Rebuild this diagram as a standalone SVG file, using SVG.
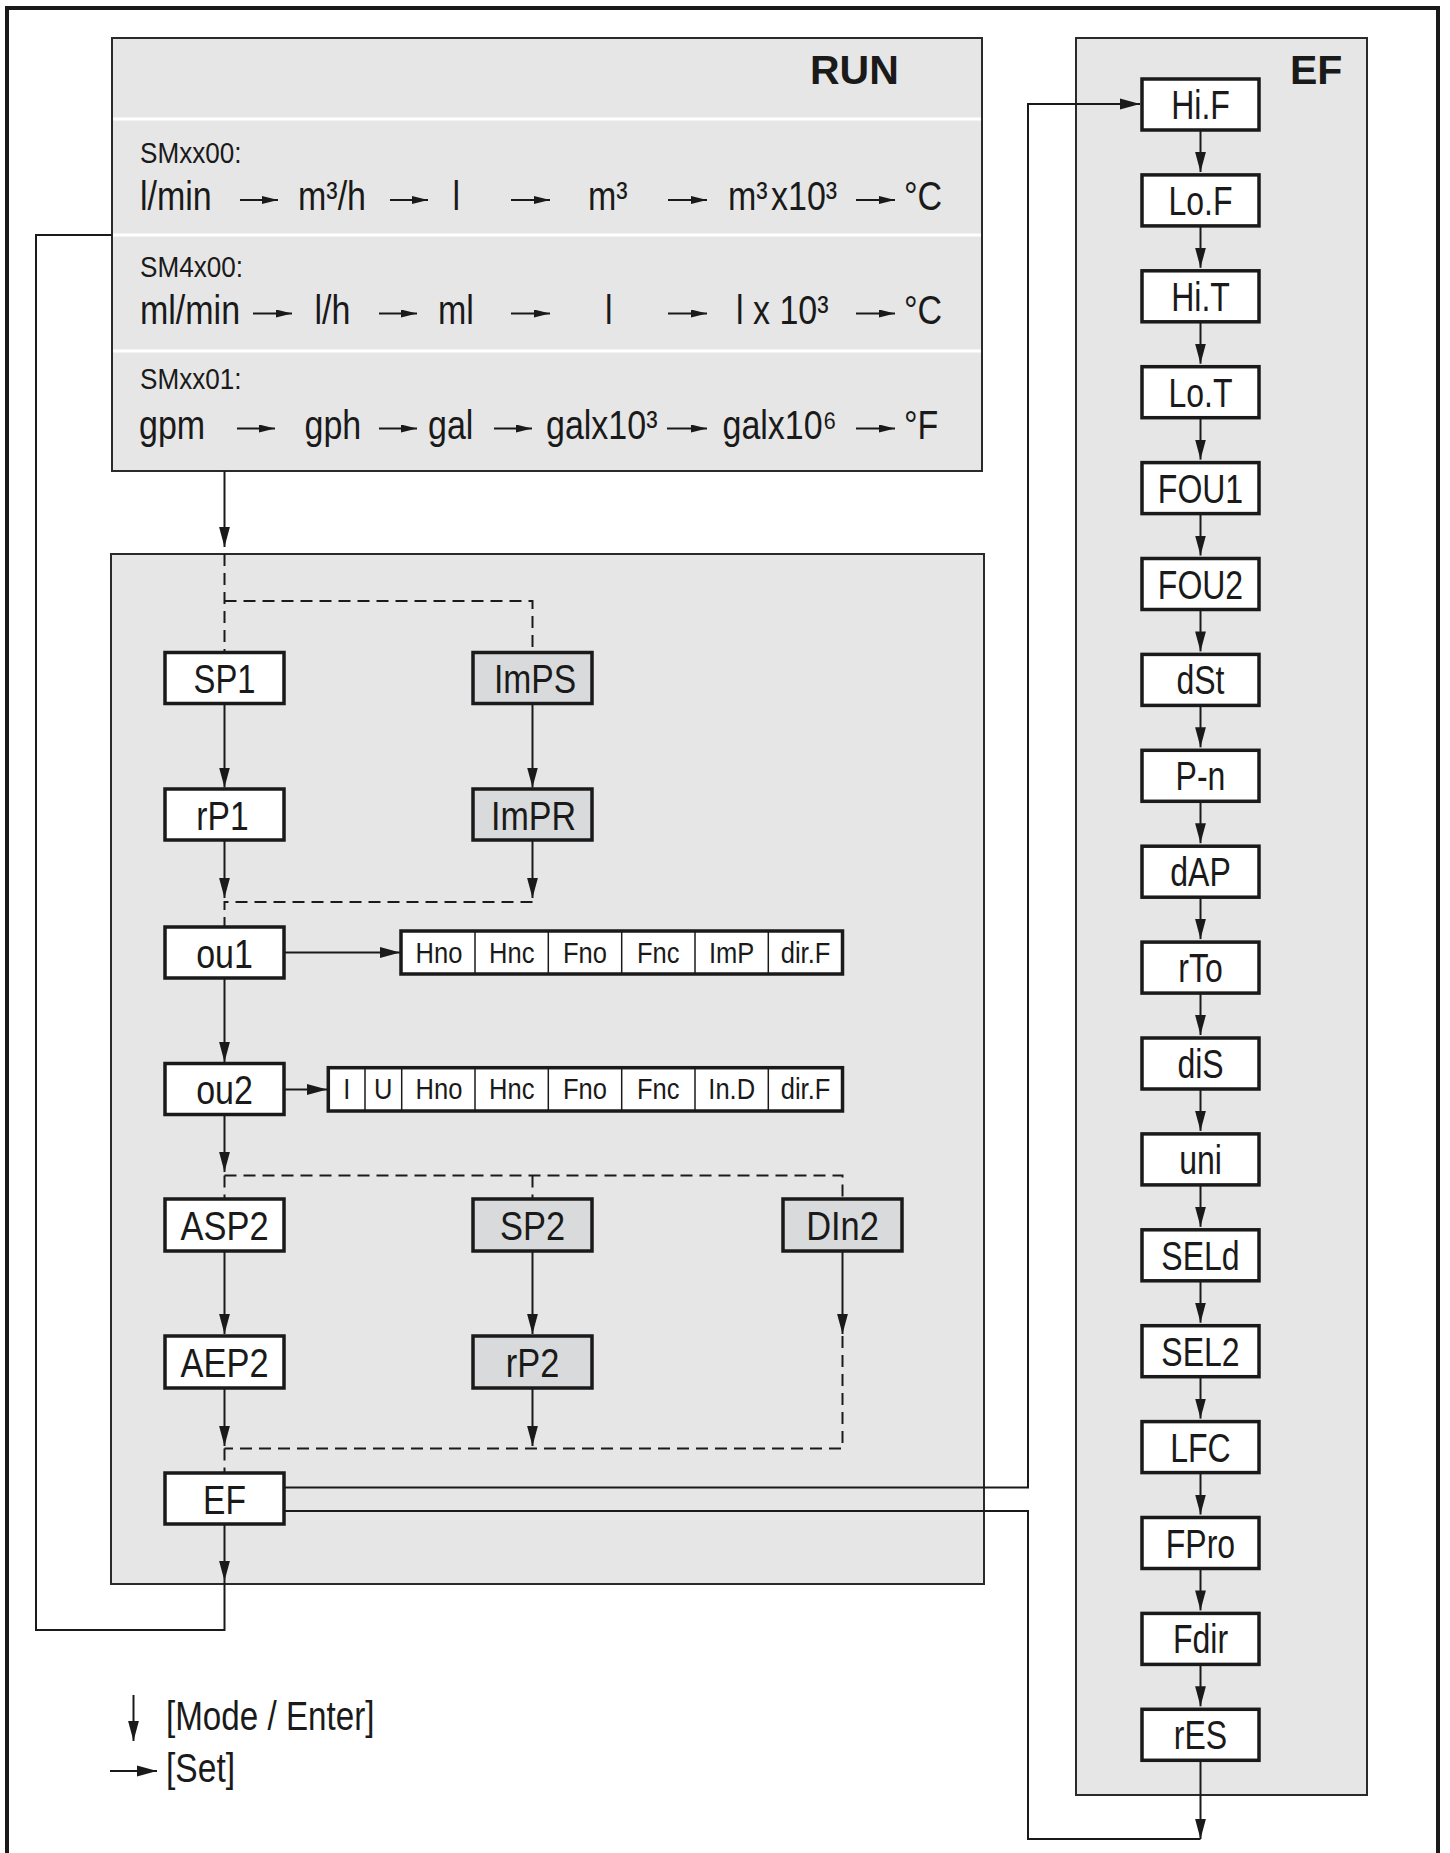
<svg xmlns="http://www.w3.org/2000/svg" width="1450" height="1853" viewBox="0 0 1450 1853">
<style>
.t{font-family:"Liberation Sans",Arial,"DejaVu Sans",sans-serif;fill:#1a1a1a}
.bx{font-size:41px;text-anchor:middle}
.ef{font-size:40px;text-anchor:middle}
.row{font-size:40px}
.lbl{font-size:29px}
.cell{font-size:29px;text-anchor:middle}
.ttl{font-size:41px;font-weight:bold}
.panel{fill:#e6e6e6;stroke:#2a2a2a;stroke-width:2}
.box{fill:#ffffff;stroke:#1a1a1a;stroke-width:3.5}
.gbox{fill:#d9dadb;stroke:#1a1a1a;stroke-width:3.5}
.tbl{fill:#ffffff;stroke:#1a1a1a;stroke-width:3.5}
.div{stroke:#1a1a1a;stroke-width:1.5}
.ln{fill:none;stroke:#1a1a1a;stroke-width:2}
.arr{fill:none;stroke:#1a1a1a;stroke-width:2;marker-end:url(#ah)}
.sarr{fill:none;stroke:#1a1a1a;stroke-width:2;marker-end:url(#as)}
.dash{fill:none;stroke:#1a1a1a;stroke-width:2;stroke-dasharray:12 7}
.sep{stroke:#ffffff;stroke-width:3}
</style>
<defs>
<marker id="ah" markerUnits="userSpaceOnUse" markerWidth="20" markerHeight="12" refX="20" refY="6" orient="auto"><path d="M0,0.6 L20,6 L0,11.4 z" fill="#1a1a1a"/></marker>
<marker id="as" markerUnits="userSpaceOnUse" markerWidth="16" markerHeight="8" refX="16" refY="4" orient="auto"><path d="M0,0 L16,4 L0,8 z" fill="#1a1a1a"/></marker>
</defs>
<rect x="0" y="0" width="1450" height="1853" fill="#ffffff"/>
<rect x="7" y="8" width="1431" height="1870" fill="none" stroke="#1a1a1a" stroke-width="4"/>

<g id="run-panel">
<rect class="panel" x="112" y="38" width="870" height="433"/>
<line class="sep" x1="113" y1="119" x2="981" y2="119"/>
<line class="sep" x1="113" y1="235" x2="981" y2="235"/>
<line class="sep" x1="113" y1="351" x2="981" y2="351"/>
<text class="t ttl" x="810" y="84">RUN</text>
<text class="t lbl" transform="translate(140,163) scale(0.9,1)">SMxx00:</text>
<text class="t lbl" transform="translate(140,276.5) scale(0.9,1)">SM4x00:</text>
<text class="t lbl" transform="translate(140,389) scale(0.9,1)">SMxx01:</text>
<g class="t row">
<text transform="translate(140,210) scale(0.85,1)">l/min</text>
<text transform="translate(298,210) scale(0.85,1)">m³/h</text>
<text transform="translate(452.5,210) scale(0.85,1)">l</text>
<text transform="translate(588,210) scale(0.85,1)">m³</text>
<text transform="translate(728,210) scale(0.85,1)">m³<tspan dx="4">x10³</tspan></text>
<text transform="translate(904,210) scale(0.85,1)">°C</text>
<text transform="translate(140,324) scale(0.85,1)">ml/min</text>
<text transform="translate(314.5,324) scale(0.85,1)">l/h</text>
<text transform="translate(438,324) scale(0.85,1)">ml</text>
<text transform="translate(605,324) scale(0.85,1)">l</text>
<text transform="translate(736,324) scale(0.85,1)">l x 10³</text>
<text transform="translate(904,324) scale(0.85,1)">°C</text>
<text transform="translate(139,438.5) scale(0.85,1)">gpm</text>
<text transform="translate(304.5,438.5) scale(0.85,1)">gph</text>
<text transform="translate(428,438.5) scale(0.85,1)">gal</text>
<text transform="translate(546,438.5) scale(0.85,1)">galx10³</text>
<text transform="translate(722.5,438.5) scale(0.85,1)">galx10⁶</text>
<text transform="translate(904,438.5) scale(0.85,1)">°F</text>
</g>
<g>
<path class="sarr" d="M240,200 H278"/>
<path class="sarr" d="M390,200 H428"/>
<path class="sarr" d="M511,200 H550"/>
<path class="sarr" d="M668,200 H707"/>
<path class="sarr" d="M856,200 H895"/>
<path class="sarr" d="M253,313.5 H292"/>
<path class="sarr" d="M379,313.5 H417"/>
<path class="sarr" d="M511,313.5 H550"/>
<path class="sarr" d="M668,313.5 H707"/>
<path class="sarr" d="M856,313.5 H895"/>
<path class="sarr" d="M237,428.5 H275"/>
<path class="sarr" d="M379,428.5 H417"/>
<path class="sarr" d="M494,428.5 H532"/>
<path class="sarr" d="M667,428.5 H707"/>
<path class="sarr" d="M856,428.5 H895"/>
</g>
</g>

<g id="menu-panel">
<rect class="panel" x="111" y="554" width="873" height="1030"/>
</g>

<g id="ef-panel">
<rect class="panel" x="1076" y="38" width="291" height="1757"/>
<text class="t ttl" x="1290" y="84">EF</text>
</g>

<g id="connectors">
<path class="arr" d="M224.5,471 V547"/>
<path class="dash" d="M224.5,554 V652"/>
<path class="dash" d="M224.5,601 H532.5 V652"/>
<path class="arr" d="M224.5,703 V787.5"/>
<path class="arr" d="M532.5,703 V787.5"/>
<path class="arr" d="M224.5,840 V898"/>
<path class="arr" d="M532.5,840 V898"/>
<path class="dash" d="M532.5,902 H224.5 V927"/>
<path class="arr" d="M284,952.5 H400"/>
<path class="arr" d="M224.5,978 V1062"/>
<path class="arr" d="M284,1089.5 H327"/>
<path class="arr" d="M224.5,1114 V1172"/>
<path class="dash" d="M224.5,1175.5 V1199"/>
<path class="dash" d="M224.5,1175.5 H842.5 V1199"/>
<path class="dash" d="M532.5,1175.5 V1199"/>
<path class="arr" d="M224.5,1251 V1334"/>
<path class="arr" d="M532.5,1251 V1334"/>
<path class="arr" d="M842.5,1251 V1334"/>
<path class="dash" d="M842.5,1336 V1448.5 H224.5"/>
<path class="arr" d="M224.5,1388 V1446"/>
<path class="arr" d="M532.5,1388 V1446"/>
<path class="dash" d="M224.5,1448.5 V1473"/>
<path class="arr" d="M224.5,1524 V1581"/>
<path class="ln" d="M224.5,1581 V1630 H36 V235 H112"/>
<path class="arr" d="M284,1487.5 H1028 V104 H1140"/>
<path class="ln" d="M284,1511 H1028 V1839 H1200.5"/>
<path class="arr" d="M1200.5,130 V172"/>
<path class="arr" d="M1200.5,225.9 V267.8"/>
<path class="arr" d="M1200.5,321.8 V363.7"/>
<path class="arr" d="M1200.5,417.7 V459.6"/>
<path class="arr" d="M1200.5,513.6 V555.5"/>
<path class="arr" d="M1200.5,609.5 V651.4"/>
<path class="arr" d="M1200.5,705.4 V747.3"/>
<path class="arr" d="M1200.5,801.3 V843.2"/>
<path class="arr" d="M1200.5,897.2 V939.1"/>
<path class="arr" d="M1200.5,993.1 V1035"/>
<path class="arr" d="M1200.5,1089 V1130.9"/>
<path class="arr" d="M1200.5,1184.9 V1226.8"/>
<path class="arr" d="M1200.5,1280.8 V1322.7"/>
<path class="arr" d="M1200.5,1376.7 V1418.6"/>
<path class="arr" d="M1200.5,1472.6 V1514.5"/>
<path class="arr" d="M1200.5,1568.5 V1610.4"/>
<path class="arr" d="M1200.5,1664.4 V1706.3"/>
<path class="arr" d="M1200.5,1760.3 V1839"/>
</g>

<g id="SP1"><rect class="box" x="165" y="652.5" width="119" height="51"/><text class="t bx" transform="translate(224.5,693) scale(0.8,1)">SP1</text></g>
<g id="ImPS"><rect class="gbox" x="473" y="652.5" width="119" height="51"/><text class="t bx" transform="translate(535,693) scale(0.82,1)">ImPS</text></g>
<g id="rP1"><rect class="box" x="165" y="789" width="119" height="51"/><text class="t bx" transform="translate(222.5,829.5) scale(0.82,1)">rP1</text></g>
<g id="ImPR"><rect class="gbox" x="473" y="789" width="119" height="51"/><text class="t bx" transform="translate(533.5,829.5) scale(0.83,1)">ImPR</text></g>
<g id="ou1"><rect class="box" x="165" y="927" width="119" height="51"/><text class="t bx" transform="translate(224.5,967.5) scale(0.83,1)">ou1</text></g>
<g id="ou2"><rect class="box" x="165" y="1063.5" width="119" height="51"/><text class="t bx" transform="translate(224.5,1104) scale(0.83,1)">ou2</text></g>

<g id="ou1-options">
<rect class="tbl" x="401" y="931" width="441.5" height="43"/>
<line class="div" x1="475" y1="931" x2="475" y2="974"/>
<line class="div" x1="548.3" y1="931" x2="548.3" y2="974"/>
<line class="div" x1="621.7" y1="931" x2="621.7" y2="974"/>
<line class="div" x1="695" y1="931" x2="695" y2="974"/>
<line class="div" x1="768.3" y1="931" x2="768.3" y2="974"/>
<text class="t cell" transform="translate(439,962.7) scale(0.88,1)">Hno</text>
<text class="t cell" transform="translate(511.7,962.7) scale(0.88,1)">Hnc</text>
<text class="t cell" transform="translate(585,962.7) scale(0.88,1)">Fno</text>
<text class="t cell" transform="translate(658.3,962.7) scale(0.88,1)">Fnc</text>
<text class="t cell" transform="translate(731.7,962.7) scale(0.88,1)">ImP</text>
<text class="t cell" transform="translate(805.5,962.7) scale(0.88,1)">dir.F</text>
</g>
<g id="ou2-options">
<rect class="tbl" x="328.3" y="1067.7" width="514.2" height="43.3"/>
<line class="div" x1="365" y1="1067.7" x2="365" y2="1111"/>
<line class="div" x1="401.7" y1="1067.7" x2="401.7" y2="1111"/>
<line class="div" x1="475" y1="1067.7" x2="475" y2="1111"/>
<line class="div" x1="548.3" y1="1067.7" x2="548.3" y2="1111"/>
<line class="div" x1="621.7" y1="1067.7" x2="621.7" y2="1111"/>
<line class="div" x1="695" y1="1067.7" x2="695" y2="1111"/>
<line class="div" x1="768.3" y1="1067.7" x2="768.3" y2="1111"/>
<text class="t cell" transform="translate(346.7,1099.3) scale(0.88,1)">I</text>
<text class="t cell" transform="translate(383.3,1099.3) scale(0.88,1)">U</text>
<text class="t cell" transform="translate(439,1099.3) scale(0.88,1)">Hno</text>
<text class="t cell" transform="translate(511.7,1099.3) scale(0.88,1)">Hnc</text>
<text class="t cell" transform="translate(585,1099.3) scale(0.88,1)">Fno</text>
<text class="t cell" transform="translate(658.3,1099.3) scale(0.88,1)">Fnc</text>
<text class="t cell" transform="translate(731.7,1099.3) scale(0.88,1)">In.D</text>
<text class="t cell" transform="translate(805.5,1099.3) scale(0.88,1)">dir.F</text>
</g>

<g id="ASP2"><rect class="box" x="165" y="1199" width="119" height="52"/><text class="t bx" transform="translate(224.5,1240) scale(0.84,1)">ASP2</text></g>
<g id="SP2"><rect class="gbox" x="473" y="1199" width="119" height="52"/><text class="t bx" transform="translate(532.5,1240) scale(0.84,1)">SP2</text></g>
<g id="DIn2"><rect class="gbox" x="783" y="1199" width="119" height="52"/><text class="t bx" transform="translate(842.5,1240) scale(0.84,1)">DIn2</text></g>
<g id="AEP2"><rect class="box" x="165" y="1336" width="119" height="52"/><text class="t bx" transform="translate(224.5,1377) scale(0.84,1)">AEP2</text></g>
<g id="rP2"><rect class="gbox" x="473" y="1336" width="119" height="52"/><text class="t bx" transform="translate(532.5,1377) scale(0.84,1)">rP2</text></g>
<g id="EF"><rect class="box" x="165" y="1473" width="119" height="51"/><text class="t bx" transform="translate(224.5,1513.5) scale(0.82,1)">EF</text></g>

<g id="HiF"><rect class="box" x="1142" y="79" width="117" height="51"/><text class="t ef" transform="translate(1200.5,119) scale(0.8,1)">Hi.F</text></g>
<g id="LoF"><rect class="box" x="1142" y="174.9" width="117" height="51"/><text class="t ef" transform="translate(1200.5,214.9) scale(0.8,1)">Lo.F</text></g>
<g id="HiT"><rect class="box" x="1142" y="270.8" width="117" height="51"/><text class="t ef" transform="translate(1200.5,310.8) scale(0.8,1)">Hi.T</text></g>
<g id="LoT"><rect class="box" x="1142" y="366.7" width="117" height="51"/><text class="t ef" transform="translate(1200.5,406.7) scale(0.8,1)">Lo.T</text></g>
<g id="FOU1"><rect class="box" x="1142" y="462.6" width="117" height="51"/><text class="t ef" transform="translate(1200.5,502.6) scale(0.8,1)">FOU1</text></g>
<g id="FOU2"><rect class="box" x="1142" y="558.5" width="117" height="51"/><text class="t ef" transform="translate(1200.5,598.5) scale(0.8,1)">FOU2</text></g>
<g id="dSt"><rect class="box" x="1142" y="654.4" width="117" height="51"/><text class="t ef" transform="translate(1200.5,694.4) scale(0.8,1)">dSt</text></g>
<g id="P-n"><rect class="box" x="1142" y="750.3" width="117" height="51"/><text class="t ef" transform="translate(1200.5,790.3) scale(0.8,1)">P-n</text></g>
<g id="dAP"><rect class="box" x="1142" y="846.2" width="117" height="51"/><text class="t ef" transform="translate(1200.5,886.2) scale(0.8,1)">dAP</text></g>
<g id="rTo"><rect class="box" x="1142" y="942.1" width="117" height="51"/><text class="t ef" transform="translate(1200.5,982.1) scale(0.8,1)">rTo</text></g>
<g id="diS"><rect class="box" x="1142" y="1038" width="117" height="51"/><text class="t ef" transform="translate(1200.5,1078) scale(0.8,1)">diS</text></g>
<g id="uni"><rect class="box" x="1142" y="1133.9" width="117" height="51"/><text class="t ef" transform="translate(1200.5,1173.9) scale(0.8,1)">uni</text></g>
<g id="SELd"><rect class="box" x="1142" y="1229.8" width="117" height="51"/><text class="t ef" transform="translate(1200.5,1269.8) scale(0.8,1)">SELd</text></g>
<g id="SEL2"><rect class="box" x="1142" y="1325.7" width="117" height="51"/><text class="t ef" transform="translate(1200.5,1365.7) scale(0.8,1)">SEL2</text></g>
<g id="LFC"><rect class="box" x="1142" y="1421.6" width="117" height="51"/><text class="t ef" transform="translate(1200.5,1461.6) scale(0.8,1)">LFC</text></g>
<g id="FPro"><rect class="box" x="1142" y="1517.5" width="117" height="51"/><text class="t ef" transform="translate(1200.5,1557.5) scale(0.8,1)">FPro</text></g>
<g id="Fdir"><rect class="box" x="1142" y="1613.4" width="117" height="51"/><text class="t ef" transform="translate(1200.5,1653.4) scale(0.8,1)">Fdir</text></g>
<g id="rES"><rect class="box" x="1142" y="1709.3" width="117" height="51"/><text class="t ef" transform="translate(1200.5,1749.3) scale(0.8,1)">rES</text></g>

<g id="legend">
<path class="arr" d="M133.5,1695 V1741"/>
<path class="arr" d="M110,1771 H157"/>
<text class="t row" transform="translate(166,1730) scale(0.83,1)">[Mode / Enter]</text>
<text class="t row" transform="translate(166,1782) scale(0.84,1)">[Set]</text>
</g>
</svg>
